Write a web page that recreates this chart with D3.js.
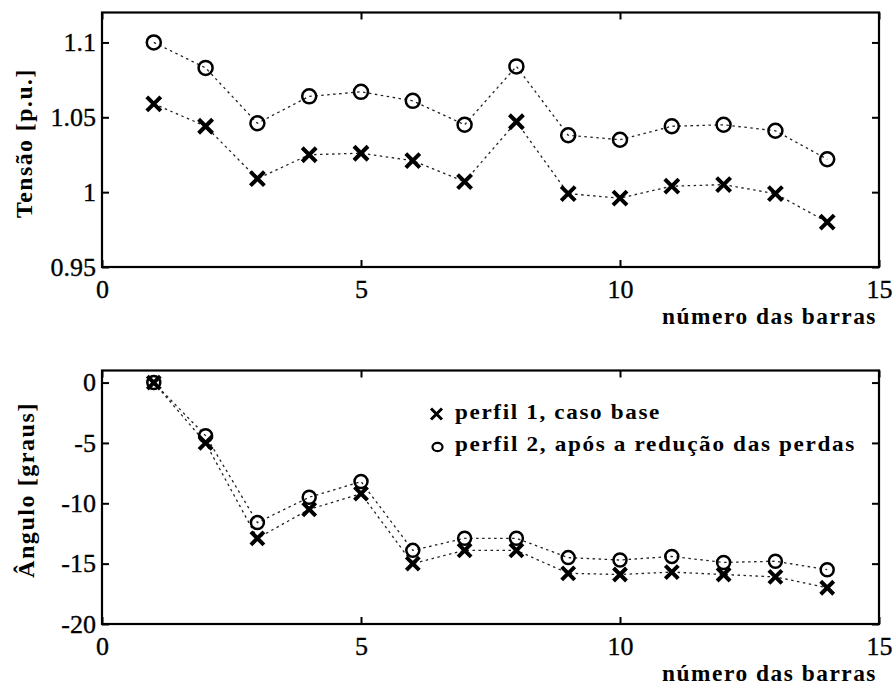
<!DOCTYPE html>
<html>
<head>
<meta charset="utf-8">
<script src="https://cdn.jsdelivr.net/npm/d3@7"></script>
<style>
  html, body { margin: 0; padding: 0; background: #fff; }
  svg { display: block; }
</style>
</head>
<body>
<svg id="chart" width="896" height="687"></svg>
<script>
// Barras do sistema
const barras = [1, 2, 3, 4, 5, 6, 7, 8, 9, 10, 11, 12, 13, 14];

// Tensão [p.u.]
const tensaoPerfil1 = [1.059, 1.044, 1.009, 1.025, 1.026, 1.021, 1.007, 1.047, 0.999, 0.996, 1.004, 1.005, 0.999, 0.980];
const tensaoPerfil2 = [1.100, 1.083, 1.046, 1.064, 1.067, 1.061, 1.045, 1.084, 1.038, 1.035, 1.044, 1.045, 1.041, 1.022];

// Ângulo [graus]
const anguloPerfil1 = [0, -5.0, -12.9, -10.5, -9.2, -15.0, -13.9, -13.9, -15.8, -15.9, -15.7, -15.9, -16.1, -17.0];
const anguloPerfil2 = [0, -4.4, -11.6, -9.5, -8.2, -13.9, -12.9, -12.9, -14.5, -14.7, -14.4, -14.9, -14.8, -15.5];

// Marcas dos eixos
const xTicks = [0, 5, 10, 15];
const xTickLabels = ["0", "5", "10", "15"];
const tensaoTicks = [0.95, 1.0, 1.05, 1.1];
const tensaoTickLabels = ["0.95", "1", "1.05", "1.1"];
const anguloTicks = [-20, -15, -10, -5, 0];
const anguloTickLabels = ["-20", "-15", "-10", "-5", "0"];

const legendaTextos = ["perfil 1, caso base", "perfil 2, após a redução das perdas"];

const FONTE = "'Liberation Serif', 'Times New Roman', serif";

const svg = d3.select("#chart");

const left = 102, right = 879;
const x = d3.scaleLinear().domain([0, 15]).range([left, right]);

function texto(sel, size, bold) {
  return sel.style("font-family", FONTE).style("font-size", size + "px")
    .style("font-weight", bold ? "bold" : "normal").style("fill", "#000");
}

// texto largo, ajustado ao comprimento com glifos esticados
function textoLargo(sel, size, len) {
  return texto(sel, size, true).style("letter-spacing", "1.5px")
    .attr("textLength", len).attr("lengthAdjust", "spacingAndGlyphs");
}

function drawPanel(cfg) {
  const y = d3.scaleLinear().domain(cfg.domain).range([cfg.bottom, cfg.top]);
  const g = svg.append("g");

  // eixos com marcas internas
  const fmtX = d => xTickLabels[xTicks.indexOf(d)];
  const fmtY = d => cfg.tickLabels[cfg.ticks.indexOf(d)];

  const axB = g.append("g").attr("transform", `translate(0,${cfg.bottom})`)
    .call(d3.axisBottom(x).tickValues(xTicks).tickFormat(fmtX).tickSizeInner(-7).tickSizeOuter(0).tickPadding(13));
  const axT = g.append("g").attr("transform", `translate(0,${cfg.top})`)
    .call(d3.axisTop(x).tickValues(xTicks).tickFormat("").tickSizeInner(-7).tickSizeOuter(0));
  const axL = g.append("g").attr("transform", `translate(${left},0)`)
    .call(d3.axisLeft(y).tickValues(cfg.ticks).tickFormat(fmtY).tickSizeInner(-7).tickSizeOuter(0).tickPadding(6));
  const axR = g.append("g").attr("transform", `translate(${right},0)`)
    .call(d3.axisRight(y).tickValues(cfg.ticks).tickFormat("").tickSizeInner(-7).tickSizeOuter(0));

  [axB, axT, axL, axR].forEach(a => {
    a.select(".domain").remove();
    a.selectAll(".tick line").attr("stroke", "#000").attr("stroke-width", 2);
    texto(a.selectAll(".tick text"), 26, false)
      .style("stroke", "#000").style("stroke-width", "0.35px");
  });

  // moldura
  g.append("rect")
    .attr("x", left).attr("y", cfg.top)
    .attr("width", right - left).attr("height", cfg.bottom - cfg.top)
    .attr("fill", "none").attr("stroke", "#000").attr("stroke-width", 2.2);

  // linhas pontilhadas
  const line = d3.line().x((d, i) => x(barras[i])).y(d => y(d));
  [cfg.s1, cfg.s2].forEach(s => {
    g.append("path").datum(s).attr("d", line)
      .attr("fill", "none").attr("stroke", "#222").attr("stroke-width", 1.3)
      .attr("stroke-dasharray", "2.5,3.5");
  });

  // marcadores: círculos (perfil 2) e cruzes (perfil 1)
  g.selectAll(".circ").data(cfg.s2).join("circle")
    .attr("cx", (d, i) => x(barras[i])).attr("cy", d => y(d))
    .attr("r", cfg.r).attr("fill", "none").attr("stroke", "#000").attr("stroke-width", 2.5);

  const h = cfg.h;
  g.selectAll(".cruz").data(cfg.s1).join("path")
    .attr("transform", (d, i) => `translate(${x(barras[i])},${y(d)})`)
    .attr("d", `M${-h},${-h}L${h},${h}M${-h},${h}L${h},${-h}`)
    .attr("fill", "none").attr("stroke", "#000").attr("stroke-width", 4);

  // rótulos dos eixos
  textoLargo(g.append("text"), 23, 215)
    .attr("x", 877).attr("y", cfg.bottom + 57)
    .attr("text-anchor", "end")
    .text("número das barras");

  textoLargo(g.append("text"), 23, cfg.ylabelLen)
    .attr("transform", `translate(${cfg.ylabelX},${cfg.ylabelY}) rotate(-90)`)
    .attr("text-anchor", "middle")
    .text(cfg.ylabel);

  return { g, y };
}

drawPanel({
  top: 12.5, bottom: 267, domain: [0.95, 1.12],
  ticks: tensaoTicks, tickLabels: tensaoTickLabels,
  s1: tensaoPerfil1, s2: tensaoPerfil2, r: 7, h: 7,
  ylabel: "Tensão [p.u.]", ylabelX: 32, ylabelY: 143, ylabelLen: 150
});

drawPanel({
  top: 370.5, bottom: 624, domain: [-20, 1],
  ticks: anguloTicks, tickLabels: anguloTickLabels,
  s1: anguloPerfil1, s2: anguloPerfil2, r: 6.5, h: 6.5,
  ylabel: "Ângulo [graus]", ylabelX: 34, ylabelY: 490, ylabelLen: 176
});

// legenda
const leg = svg.append("g");
const lh = 5.5;
leg.append("path")
  .attr("transform", "translate(436.5,414)")
  .attr("d", `M${-lh},${-lh}L${lh},${lh}M${-lh},${lh}L${lh},${-lh}`)
  .attr("fill", "none").attr("stroke", "#000").attr("stroke-width", 3);
leg.append("ellipse")
  .attr("cx", 437.5).attr("cy", 447).attr("rx", 5).attr("ry", 4.2)
  .attr("fill", "none").attr("stroke", "#000").attr("stroke-width", 2.2);
textoLargo(leg.append("text"), 21, 206).attr("x", 455).attr("y", 419).text(legendaTextos[0]);
textoLargo(leg.append("text"), 21, 401).attr("x", 455).attr("y", 451).text(legendaTextos[1]);
</script>
</body>
</html>
